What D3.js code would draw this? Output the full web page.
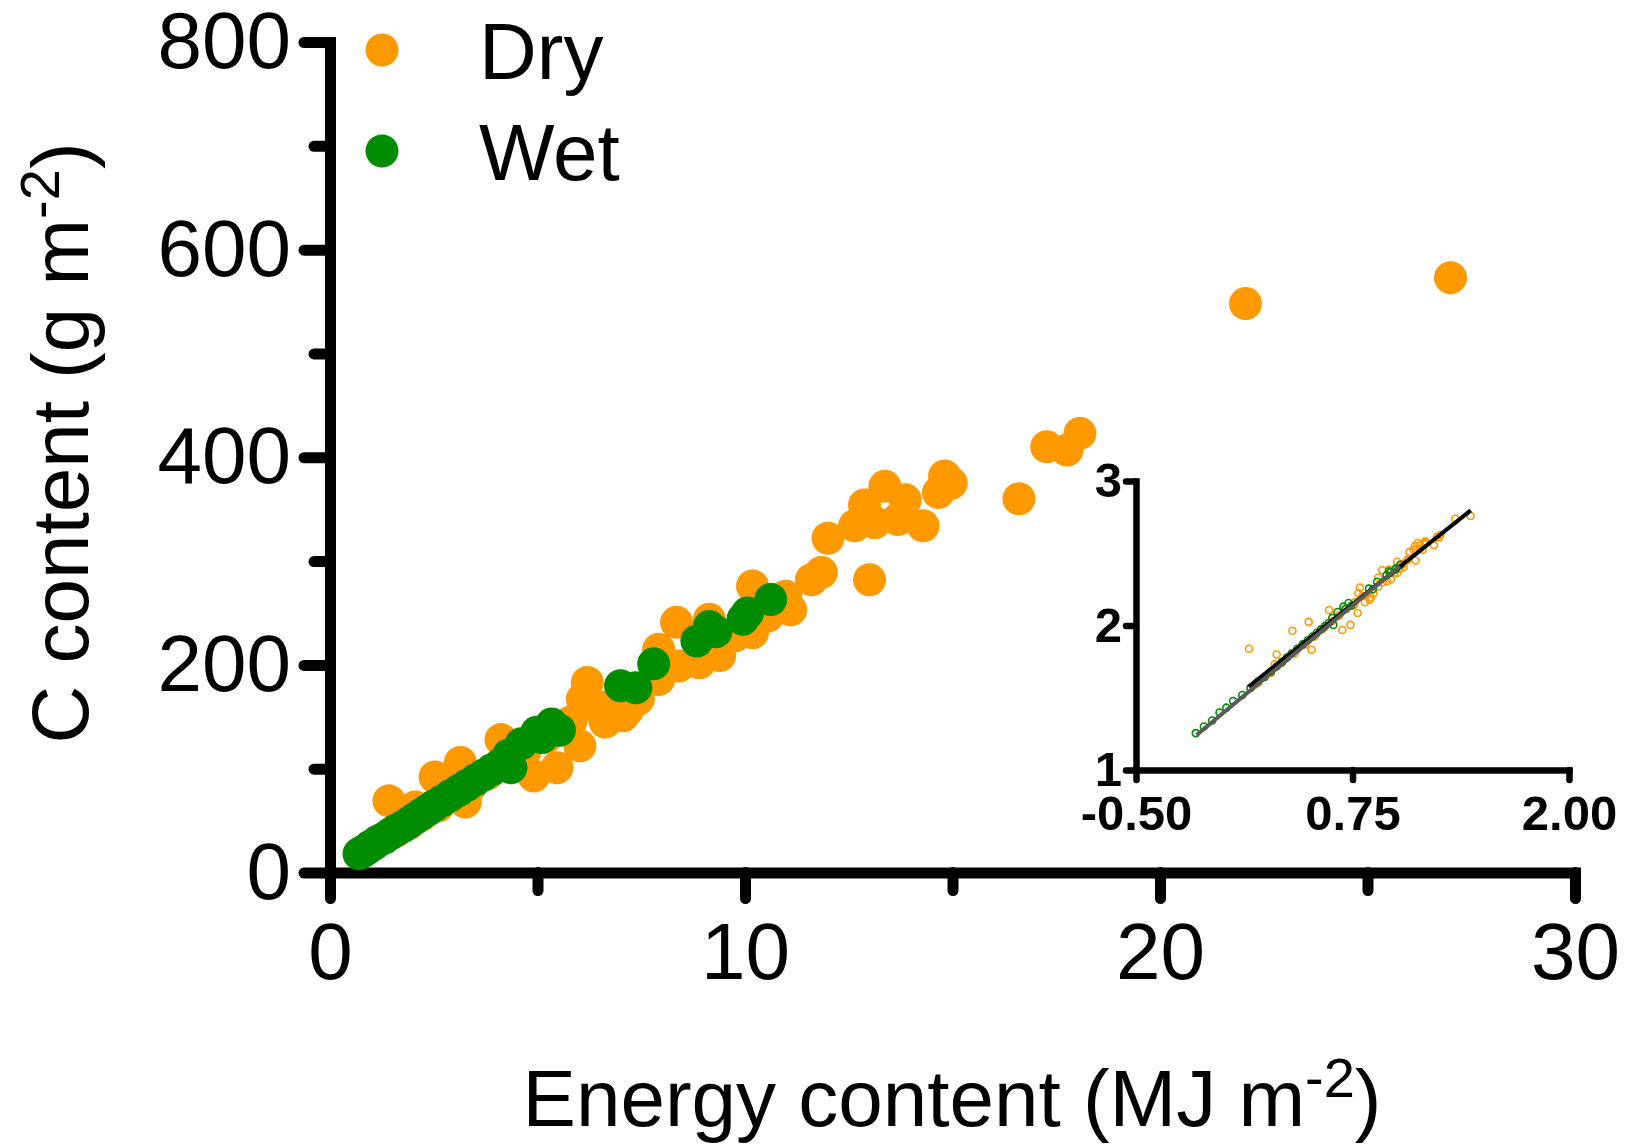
<!DOCTYPE html>
<html>
<head>
<meta charset="utf-8">
<script src="https://cdn.jsdelivr.net/npm/d3@7"></script>
<style>
  html, body { margin: 0; padding: 0; background: #fff; }
  svg { display: block; }
  text { font-family: Arial, "Liberation Sans", Helvetica, sans-serif; }
</style>
</head>
<body>
<svg id="chart" width="1625" height="1145"></svg>
<script>
// ---- Data ----
const seriesNames = ["Dry", "Wet"];
const seriesColors = ["#ff9900", "#008c00"];

// Dry season: energy content (MJ m-2) and C content (g m-2)
const dryEnergy = [27.0, 22.06, 18.07, 17.27, 17.76, 16.6, 14.81, 14.97, 14.66, 14.29,
  13.86, 13.68, 13.37, 13.13, 12.88, 12.64, 12.0, 13.0, 11.84, 11.6,
  10.98, 10.18, 10.55, 10.18, 9.39, 9.14, 8.35, 8.9, 8.41, 7.92,
  7.92, 7.43, 7.06, 6.2, 6.08, 6.63, 6.02, 5.47, 4.91, 4.12,
  3.14, 2.53, 1.42, 3.26, 2.0, 1.54, 6.69, 7.18, 5.71, 9.76,
  11.1, 10.74, 1.6, 1.9, 2.2, 2.6, 3.0, 3.4, 3.8, 4.3,
  4.7, 5.2, 5.8, 6.4, 2.05];
const dryCarbon = [573, 548, 423, 410, 407, 360, 382, 375, 366, 334,
  359, 340, 372, 337, 354, 334, 322, 282, 289, 282,
  266, 276, 247, 231, 209, 244, 241, 202, 199, 215,
  186, 167, 151, 183, 167, 145, 122, 101, 93, 128,
  106, 92, 69, 68, 54, 39, 160, 157, 138, 228,
  253, 263, 40, 47, 55, 64, 74, 84, 95, 107,
  117, 130, 145, 160, 63];

// Wet season
const wetEnergy = [10.62, 10.06, 9.95, 9.14, 8.84, 7.8, 7.37, 7.0, 5.53, 5.34,
  4.98, 4.61, 4.36, 4.3, 0.7, 0.78, 0.87, 0.96, 1.05, 1.15,
  1.3, 1.45, 1.6, 1.75, 1.9, 2.05, 2.2, 2.35, 2.5, 2.7,
  2.9, 3.1, 3.3, 3.5, 3.7, 3.9, 4.1, 5.1, 9.3];
const wetCarbon = [263, 250, 244, 237, 223, 201, 178, 180, 137, 143,
  135, 124, 101, 113, 18, 20, 22, 25, 27, 30,
  33, 37, 41, 44, 48, 52, 56, 60, 64, 69,
  74, 79, 84, 89, 94, 99, 104, 130, 232];

// Main axes ticks
const xMajorTicks = [0, 10, 20, 30];
const xMinorTicks = [5, 15, 25];
const yMajorTicks = [0, 200, 400, 600, 800];
const yMinorTicks = [100, 300, 500, 700];

// Inset (log10-log10) axes ticks and fitted lines
const insetXTicks = [-0.5, 0.75, 2.0];
const insetXTickLabels = ["-0.50", "0.75", "2.00"];
const insetYTicks = [1, 2, 3];
const dryFitX = [0.15, 1.433];
const dryFitY = [1.576, 2.797];
const wetFitX = [-0.15, 1.023];
const wetFitY = [1.242, 2.41];

// ---- Drawing ----
const svg = d3.select("#chart");
const FONT = 'Arial, "Liberation Sans", Helvetica, sans-serif';

const x = d3.scaleLinear().domain([0, 30]).range([330, 1575]);
const y = d3.scaleLinear().domain([0, 800]).range([872.5, 42]);

const dry = dryEnergy.map((e, i) => ({e, c: dryCarbon[i]}));
const wet = wetEnergy.map((e, i) => ({e, c: wetCarbon[i]}));

function styleAxis(g, width, fontSize, bold) {
  g.selectAll(".domain").attr("stroke", "#000").attr("stroke-width", width).attr("stroke-linecap", "square");
  g.selectAll(".tick line").attr("stroke", "#000").attr("stroke-width", width).attr("stroke-linecap", "round");
  g.selectAll(".tick text").attr("fill", "#000").style("font-size", fontSize + "px")
    .style("font-family", FONT).style("font-weight", bold ? "bold" : "normal");
}

// minor ticks
const gyMinor = svg.append("g").attr("transform", `translate(${x(0)},0)`)
  .call(d3.axisLeft(y).tickValues(yMinorTicks).tickSize(16).tickFormat(""));
gyMinor.select(".domain").remove();
styleAxis(gyMinor, 11, 10, false);
const gxMinor = svg.append("g").attr("transform", `translate(0,${y(0)})`)
  .call(d3.axisBottom(x).tickValues(xMinorTicks).tickSize(18).tickFormat(""));
gxMinor.select(".domain").remove();
styleAxis(gxMinor, 11, 10, false);

// major axes
const gy = svg.append("g").attr("transform", `translate(${x(0)},0)`)
  .call(d3.axisLeft(y).tickValues(yMajorTicks).tickSize(26).tickSizeOuter(0).tickPadding(13).tickFormat(d3.format("d")));
styleAxis(gy, 11, 80, false);
const gx = svg.append("g").attr("transform", `translate(0,${y(0)})`)
  .call(d3.axisBottom(x).tickValues(xMajorTicks).tickSize(26).tickSizeOuter(0).tickPadding(24).tickFormat(d3.format("d")));
styleAxis(gx, 11, 80, false);

// points
svg.append("g").selectAll("circle").data(dry).join("circle")
  .attr("cx", d => x(d.e)).attr("cy", d => y(d.c)).attr("r", 16.5).attr("fill", seriesColors[0]);
svg.append("g").selectAll("circle").data(wet).join("circle")
  .attr("cx", d => x(d.e)).attr("cy", d => y(d.c)).attr("r", 16.5).attr("fill", seriesColors[1]);

// legend
const legend = svg.append("g");
seriesNames.forEach((name, i) => {
  const cy = 50 + i * 101;
  legend.append("circle").attr("cx", 382).attr("cy", cy).attr("r", 16.5).attr("fill", seriesColors[i]);
  legend.append("text").attr("x", 479).attr("y", cy + 29).attr("font-size", 80)
    .attr("font-family", FONT).attr("fill", "#000").text(name);
});

// axis titles
const xt = svg.append("text").attr("x", 952).attr("y", 1126).attr("text-anchor", "middle")
  .attr("font-size", 80).attr("font-family", FONT).attr("fill", "#000");
xt.append("tspan").text("Energy content (MJ m");
xt.append("tspan").attr("font-size", 56).attr("dy", -29).text("-2");
xt.append("tspan").attr("dy", 29).text(")");

const yt = svg.append("text").attr("transform", "translate(88,443) rotate(-90)").attr("text-anchor", "middle")
  .attr("font-size", 80).attr("font-family", FONT).attr("fill", "#000");
yt.append("tspan").text("C content (g m");
yt.append("tspan").attr("font-size", 56).attr("dy", -29).text("-2");
yt.append("tspan").attr("dy", 29).text(")");

// ---- Inset ----
const ix = d3.scaleLinear().domain([-0.5, 2.0]).range([1136, 1569]);
const iy = d3.scaleLinear().domain([1, 3]).range([770, 481]);

const giy = svg.append("g").attr("transform", `translate(${ix(-0.5)},0)`)
  .call(d3.axisLeft(iy).tickValues(insetYTicks).tickSize(10).tickSizeOuter(0).tickPadding(4).tickFormat(d3.format("d")));
styleAxis(giy, 6.5, 49, true);
const gix = svg.append("g").attr("transform", `translate(0,${iy(1)})`)
  .call(d3.axisBottom(ix).tickValues(insetXTicks).tickSize(10).tickSizeOuter(0).tickPadding(15)
    .tickFormat((d, i) => insetXTickLabels[i]));
styleAxis(gix, 6.5, 49, true);

svg.append("g").selectAll("circle").data(dry).join("circle")
  .attr("cx", d => ix(Math.log10(d.e))).attr("cy", d => iy(Math.log10(d.c))).attr("r", 3.5)
  .attr("fill", "none").attr("stroke", seriesColors[0]).attr("stroke-width", 1.6);
svg.append("g").selectAll("circle").data(wet).join("circle")
  .attr("cx", d => ix(Math.log10(d.e))).attr("cy", d => iy(Math.log10(d.c))).attr("r", 3.5)
  .attr("fill", "none").attr("stroke", seriesColors[1]).attr("stroke-width", 1.6);

const line = d3.line().x(d => ix(d[0])).y(d => iy(d[1]));
svg.append("path").datum(dryFitX.map((v, i) => [v, dryFitY[i]])).attr("d", line)
  .attr("stroke", "#000").attr("stroke-width", 4).attr("fill", "none");
svg.append("path").datum(wetFitX.map((v, i) => [v, wetFitY[i]])).attr("d", line)
  .attr("stroke", "#5a5a5a").attr("stroke-width", 4).attr("fill", "none");
</script>
</body>
</html>
